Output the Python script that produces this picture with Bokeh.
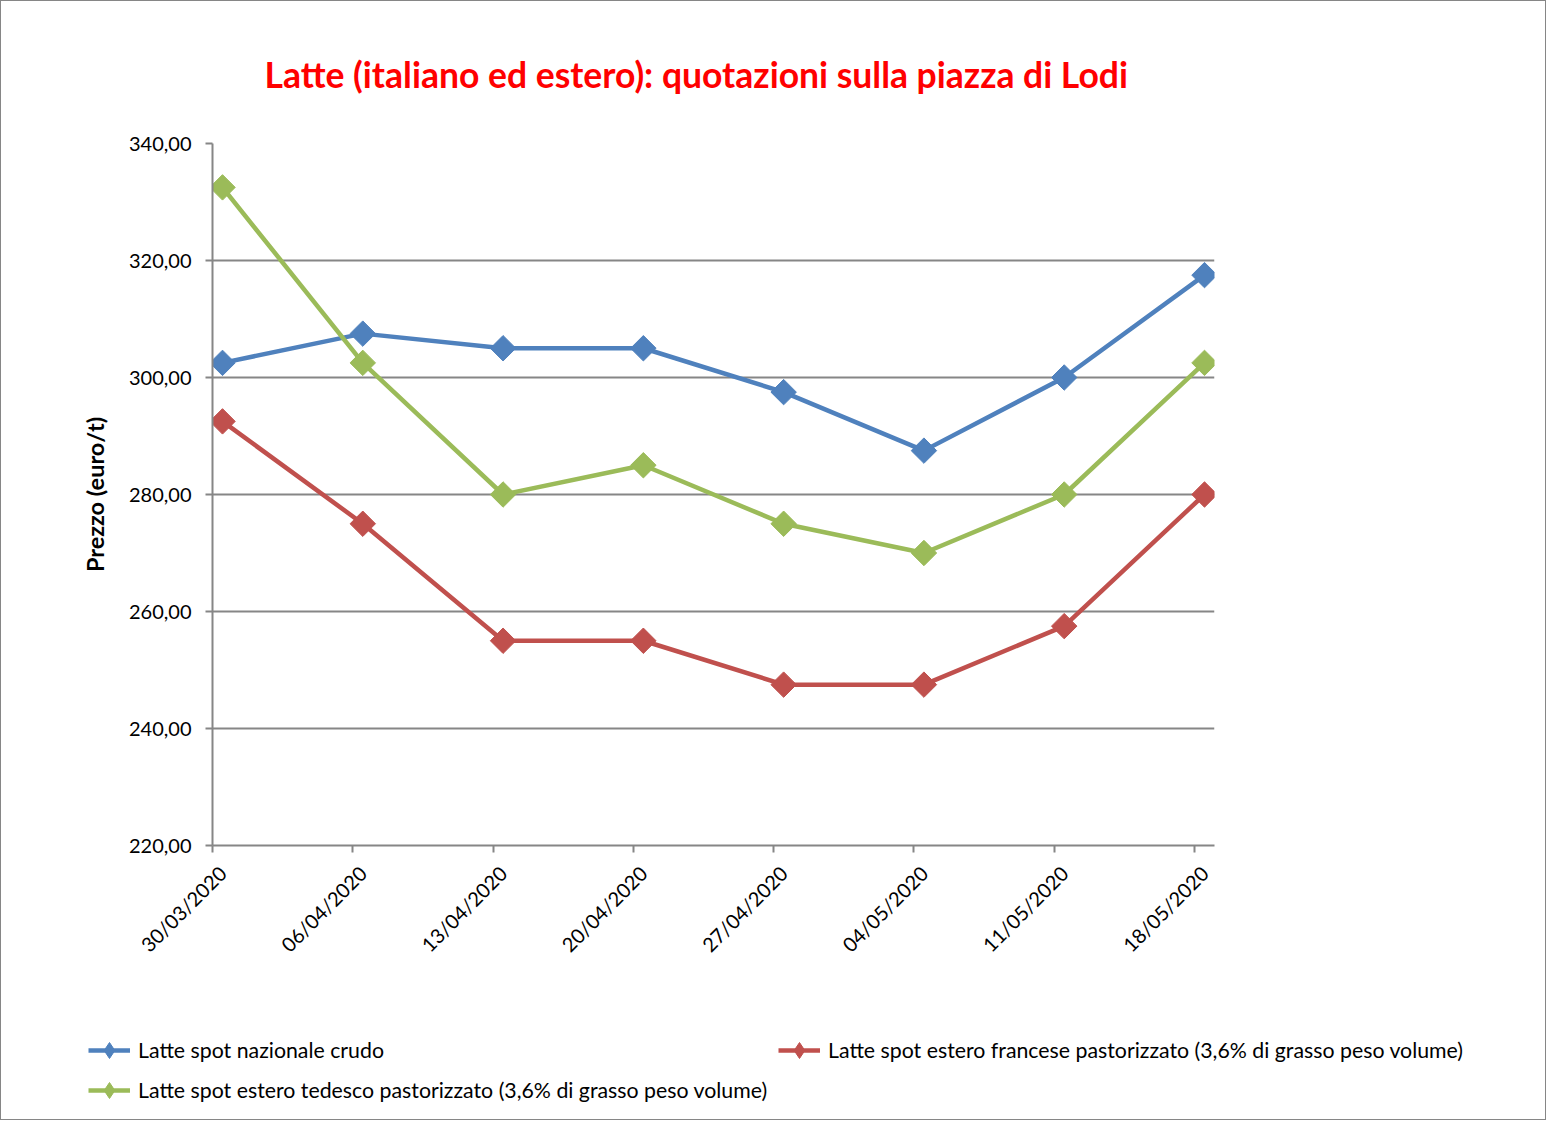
import numpy as np
from bokeh.plotting import figure
from bokeh.models import (Range1d, FixedTicker, CustomJSTickFormatter, Legend, LegendItem, Title)
from bokeh.embed import file_html
from bokeh.resources import INLINE

dates = ["30/03/2020", "06/04/2020", "13/04/2020", "20/04/2020",
         "27/04/2020", "04/05/2020", "11/05/2020", "18/05/2020"]
nazionale = [302.5, 307.5, 305.0, 305.0, 297.5, 287.5, 300.0, 317.5]
francese = [292.5, 275.0, 255.0, 255.0, 247.5, 247.5, 257.5, 280.0]
tedesco = [332.5, 302.5, 280.0, 285.0, 275.0, 270.0, 280.0, 302.5]
series_names = ["Latte spot nazionale crudo",
                "Latte spot estero francese pastorizzato (3,6% di grasso peso volume)",
                "Latte spot estero tedesco pastorizzato (3,6% di grasso peso volume)"]
colors = ["#4F81BD", "#C0504D", "#9BBB59"]
y_ticks = [220, 240, 260, 280, 300, 320, 340]

FONT = "Lato"
GRAY = "#868686"
all_series = [nazionale, francese, tedesco]

p = figure(width=1546, height=1020, output_backend="svg", toolbar_location=None,
           x_range=Range1d(-0.0713, 7.0713), y_range=Range1d(220, 340),
           min_border_left=211, min_border_right=333, min_border_top=142,
           min_border_bottom=176)
p.outline_line_color = None
p.background_fill_color = "white"
p.border_fill_color = "white"
p.styles = {"border-left": "1px solid #868686", "border-right": "1px solid #868686",
            "border-top": "1px solid #868686"}

t = Title(text="Latte (italiano ed estero): quotazioni sulla piazza di Lodi",
          text_color="#FF0000", text_font=FONT, text_font_size="35.5px",
          text_font_style="bold", align="left", offset=52, standoff=96)
p.add_layout(t, "above")

x = list(range(len(dates)))
for vals, c in zip(all_series, colors):
    p.line(x, vals, line_color=c, line_width=4.5)
    p.scatter(x, vals, marker="square", angle=np.pi / 4, size=18,
              fill_color=c, line_color=c)

# axes: labels at the data points, tick marks at the category edges
p.xaxis.ticker = FixedTicker(ticks=x, minor_ticks=[i - 0.0713 for i in x])
p.xaxis.formatter = CustomJSTickFormatter(args=dict(labels=dates),
                                          code="return labels[Math.round(tick)];")
p.xaxis.major_label_orientation = np.pi / 4
p.yaxis.ticker = FixedTicker(ticks=y_ticks)
p.yaxis.formatter = CustomJSTickFormatter(code="return tick.toFixed(2).replace('.', ',');")
for ax in [p.xaxis[0], p.yaxis[0]]:
    ax.axis_line_color = GRAY
    ax.axis_line_width = 2
    ax.major_tick_line_color = GRAY
    ax.major_tick_line_width = 2
    ax.major_tick_out = 7
    ax.major_tick_in = 0
    ax.minor_tick_line_color = None
    ax.major_label_text_font = FONT
    ax.major_label_text_font_size = "20px"
    ax.major_label_text_color = "black"
p.xaxis.major_tick_line_color = None
p.xaxis.minor_tick_line_color = GRAY
p.xaxis.minor_tick_line_width = 2
p.xaxis.minor_tick_out = 7
p.xaxis.minor_tick_in = 0
p.yaxis.major_label_standoff = 14
p.xaxis.major_label_standoff = 17
p.yaxis.axis_label = "Prezzo (euro/t)"
p.yaxis.axis_label_text_font = FONT
p.yaxis.axis_label_text_font_size = "23.5px"
p.yaxis.axis_label_text_font_style = "bold"
p.yaxis.axis_label_text_color = "black"
p.yaxis.axis_label_standoff = 17

p.xgrid.grid_line_color = None
p.ygrid.grid_line_color = GRAY
p.ygrid.grid_line_width = 2

# legend strip below the chart (separate root, so its frame spans the full width)
pl = figure(width=1546, height=100, output_backend="svg", toolbar_location=None,
            x_axis_type=None, y_axis_type=None, x_range=Range1d(100, 101),
            y_range=Range1d(0, 1), min_border=0)
pl.outline_line_color = None
pl.grid.visible = False
pl.border_fill_color = "white"
pl.background_fill_color = "white"
pl.styles = {"border-left": "1px solid #868686", "border-right": "1px solid #868686",
             "border-bottom": "1px solid #868686"}
leg_renderers = []
for vals, c in zip(all_series, colors):
    l = pl.line(x, vals, line_color=c, line_width=4.5)
    m = pl.scatter(x, vals, marker="diamond", size=18, fill_color=c, line_color=c)
    leg_renderers.append([l, m])

legend = Legend(items=[LegendItem(label=n, renderers=r) for n, r in zip(series_names, leg_renderers)],
                ncols=2, location=(87, 10), orientation="horizontal",
                label_text_font=FONT, label_text_font_size="21.3px", label_text_color="black",
                glyph_width=42, glyph_height=40, label_standoff=8, spacing=0, label_width=640,
                padding=0, margin=0, border_line_color=None, background_fill_alpha=0)
pl.add_layout(legend, "center")

open("out.html", "w").write(file_html([p, pl], INLINE))
